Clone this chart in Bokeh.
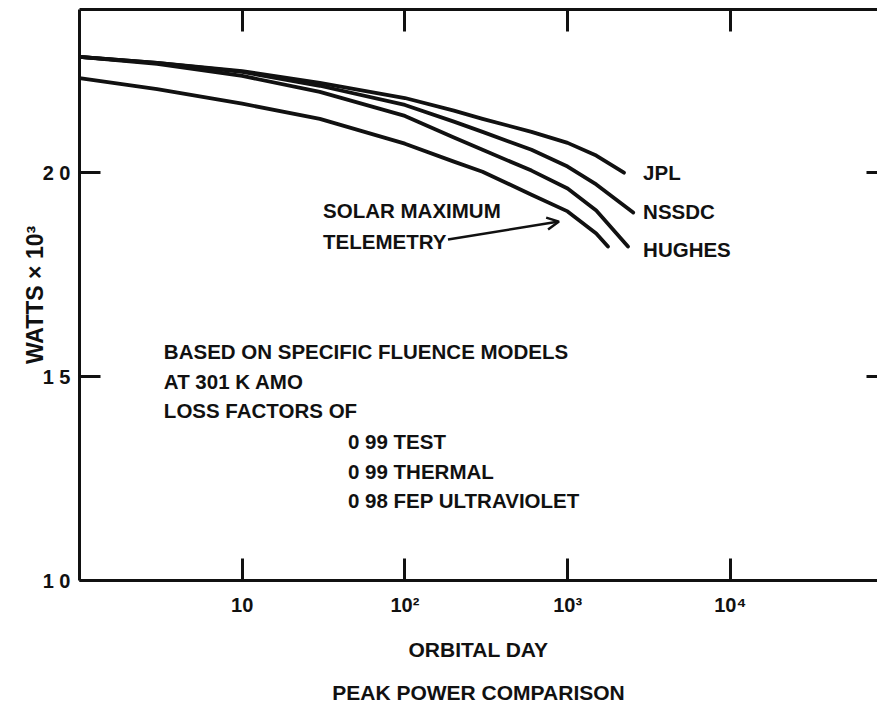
from bokeh.plotting import figure
from bokeh.models import (Range1d, FixedTicker, LinearAxis, LogAxis, Label,
                          Arrow, OpenHead, CustomJSTickFormatter)
from bokeh.embed import file_html
from bokeh.resources import INLINE

# ---------------- data ----------------
days_jpl = [1, 3, 10, 30, 100, 200, 300, 600, 1000, 1500, 2220]
watts_jpl = [2.284, 2.269, 2.249, 2.220, 2.183, 2.152, 2.132, 2.100, 2.073, 2.042, 2.000]

days_nssdc = [1, 3, 10, 30, 100, 200, 300, 600, 1000, 1500, 2530]
watts_nssdc = [2.284, 2.269, 2.247, 2.213, 2.166, 2.125, 2.100, 2.056, 2.015, 1.971, 1.902]

days_hughes = [1, 3, 10, 30, 100, 200, 300, 600, 1000, 1500, 2350]
watts_hughes = [2.284, 2.267, 2.237, 2.198, 2.139, 2.086, 2.056, 2.005, 1.961, 1.907, 1.819]

days_smm = [1, 3, 10, 30, 100, 200, 300, 600, 1000, 1500, 1770]
watts_smm = [2.232, 2.205, 2.169, 2.132, 2.071, 2.027, 2.002, 1.946, 1.905, 1.851, 1.819]

x_ticks = [10, 100, 1000, 10000]
x_tick_labels = ["10", "10²", "10³", "10⁴"]
y_ticks = [1.0, 1.5, 2.0]
y_tick_labels = ["1 0", "1 5", "2 0"]

series_names = ["JPL", "NSSDC", "HUGHES"]
note_lines = ["BASED ON SPECIFIC FLUENCE MODELS", "AT 301 K AMO", "LOSS FACTORS OF"]
factor_lines = ["0 99 TEST", "0 99 THERMAL", "0 98 FEP ULTRAVIOLET"]

FONT = "Liberation Sans"
INK = "#111111"

p = figure(width=877, height=707, x_axis_type="log",
           x_range=Range1d(1, 80300), y_range=Range1d(1.0, 2.4),
           output_backend="svg", toolbar_location=None,
           min_border_left=79, min_border_right=0, min_border_top=9,
           min_border_bottom=126)
p.outline_line_color = None
p.grid.visible = False
p.background_fill_color = "white"
p.border_fill_color = "white"

blank = CustomJSTickFormatter(code="return ''")


def style_axis(ax, ticks, tick_in, line=True):
    ax.ticker = FixedTicker(ticks=ticks, minor_ticks=[])
    ax.major_tick_in = tick_in
    ax.major_tick_out = 0
    ax.minor_tick_line_color = None
    ax.major_tick_line_width = 3
    ax.major_tick_line_color = INK
    ax.axis_line_width = 3
    ax.axis_line_color = INK if line else None
    ax.major_label_text_font = FONT
    ax.major_label_text_font_style = "bold"
    ax.major_label_text_color = INK
    ax.axis_label_text_font = FONT
    ax.axis_label_text_font_style = "bold"
    ax.axis_label_text_color = INK


def hide_labels(ax):
    ax.formatter = blank
    ax.major_label_text_font_size = "1px"
    ax.major_label_standoff = 0


# bottom axis
xb = p.xaxis[0]
style_axis(xb, x_ticks, 22)
xb.major_label_overrides = dict(zip(x_ticks, x_tick_labels))
xb.major_label_text_font_size = "20px"
xb.major_label_standoff = 13
xb.axis_label = "ORBITAL DAY\n\nPEAK POWER COMPARISON"
xb.axis_label_text_font_size = "21px"
xb.axis_label_text_line_height = 0.95
xb.axis_label_standoff = 19

# left axis
yl = p.yaxis[0]
style_axis(yl, y_ticks, 21)
yl.major_label_overrides = dict(zip(y_ticks, y_tick_labels))
yl.major_label_text_font_size = "20px"
yl.major_label_standoff = 9
yl.axis_label = "WATTS × 10³"
yl.axis_label_text_font_size = "23px"
yl.axis_label_standoff = -8

# top and right tick marks
top = LogAxis()
style_axis(top, x_ticks, 22)
hide_labels(top)
p.add_layout(top, "above")
right = LinearAxis()
style_axis(right, [1.5, 2.0], 11, line=False)
hide_labels(right)
p.add_layout(right, "right")

# ---------------- curves ----------------
for xs, ys in [(days_jpl, watts_jpl), (days_nssdc, watts_nssdc),
               (days_hughes, watts_hughes), (days_smm, watts_smm)]:
    p.line(xs, ys, line_width=3.8, line_color=INK, line_cap="round", line_join="round")


# ---------------- annotations ----------------
def lab(x, y, t, size="20.5px"):
    p.add_layout(Label(x=x, y=y, text=t, text_align="left", text_baseline="middle",
                       text_font=FONT, text_font_style="bold",
                       text_font_size=size, text_color=INK))


for name, yy in zip(series_names, [2.0, 1.905, 1.812]):
    lab(2910, yy, name)

lab(31.4, 1.907, "SOLAR MAXIMUM")
lab(31.4, 1.831, "TELEMETRY")
p.add_layout(Arrow(end=OpenHead(size=12, line_width=2.5, line_color=INK),
                   x_start=184, y_start=1.836, x_end=885, y_end=1.880,
                   line_width=2.5, line_color=INK))

for t, yy in zip(note_lines, [1.562, 1.489, 1.416]):
    lab(3.3, yy, t)
for t, yy in zip(factor_lines, [1.340, 1.267, 1.196]):
    lab(44.7, yy, t)

open("out.html", "w").write(file_html(p, INLINE))
